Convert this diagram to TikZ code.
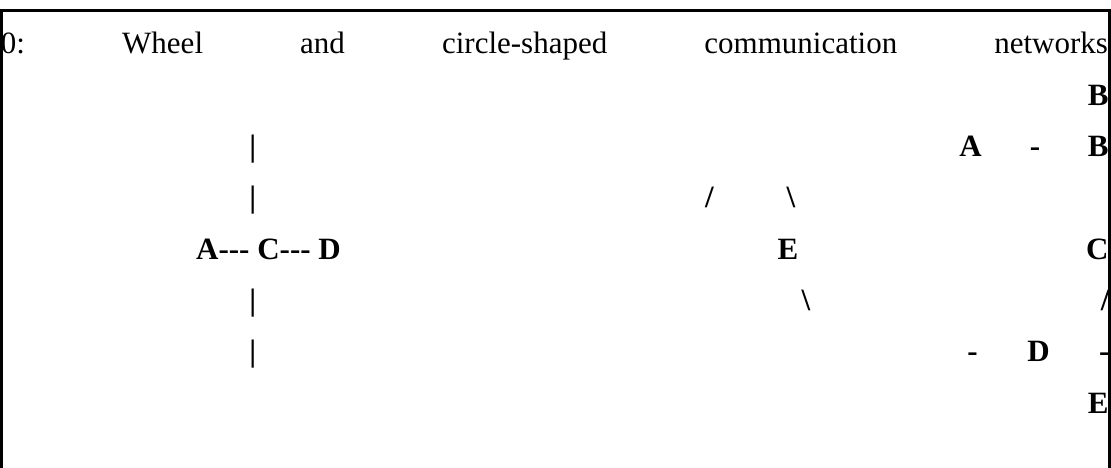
\documentclass[tikz,border=0pt]{standalone}
\usepackage{fontspec}
\setmainfont{Liberation Serif}[Ligatures=TeXOff]
\begin{document}
\begin{tikzpicture}[x=1pt,y=-1pt,
  txt/.style={inner sep=0pt, outer sep=0pt, font=\fontsize{31}{37}\selectfont},
  glyph/.style={txt, font=\fontsize{31}{37}\selectfont\bfseries, anchor=base},
  rglyph/.style={glyph, anchor=base east},
  frame/.style={line width=2.5pt, line join=miter}]
\useasboundingbox (0,0) rectangle (1111,468);
% title line (justified)
\node[txt, anchor=base west] (title) at (1,54)
  {\makebox[1107pt]{0:\hfill Wheel\hfill and\hfill circle-shaped\hfill communication\hfill networks}};
% row 2
\node[rglyph] (b2) at (1108.5,105.3) {B};
% row 3
\node[glyph] (bar3) at (252.7,156.6) {|};
\node[glyph] (a3) at (970.5,156.6) {A};
\node[glyph] (h3) at (1035,156.6) {-};
\node[rglyph] (b3) at (1108.5,156.6) {B};
% row 4
\node[glyph] (bar4) at (252.7,207.9) {|};
\node[glyph] (s4) at (709.5,207.9) {/};
\node[glyph] (bs4) at (791,207.9) {\textbackslash};
% row 5
\node[glyph] (acd) at (268.5,259.2) {A--- C--- D};
\node[glyph] (e5) at (788,259.2) {E};
\node[rglyph] (c5) at (1108.5,259.2) {C};
% row 6
\node[glyph] (bar6) at (252.7,310.5) {|};
\node[glyph] (bs6) at (806,310.5) {\textbackslash};
\node[rglyph] (s6) at (1109.5,310.5) {/};
% row 7
\node[glyph] (bar7) at (252.7,361.8) {|};
\node[glyph] (h7) at (972.5,361.8) {-};
\node[glyph] (d7) at (1038.5,361.8) {D};
\node[rglyph] (h7b) at (1109.5,361.8) {-};
% row 8
\node[rglyph] (e8) at (1108.5,413.1) {E};
% frame (open at the bottom)
\draw[frame] (1.3,468) -- (1.3,10.7) -- (1109.7,10.7) -- (1109.7,468);
\end{tikzpicture}
\end{document}
